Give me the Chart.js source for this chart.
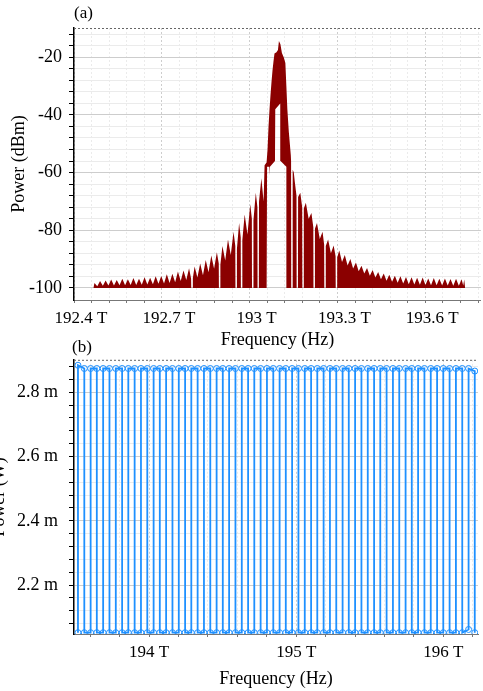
<!DOCTYPE html>
<html>
<head>
<meta charset="utf-8">
<script src="https://cdn.jsdelivr.net/npm/chart.js@4.4.0/dist/chart.umd.min.js"></script>
<style>
  html, body { margin: 0; padding: 0; background: #fff; overflow: hidden; }
  body { width: 483px; height: 691px; position: relative; }
  canvas { position: absolute; }
  #specChart { left: 0; top: 0; }
  #combChart { left: -18px; top: 338px; }
</style>
</head>
<body>
<canvas id="specChart" width="483" height="355"></canvas>
<canvas id="combChart" width="501" height="353"></canvas>
<script>
// (a) optical spectrum: [frequency THz, power dBm]
const spectrumTrace = [
  [192.466, -100],
  [192.470, -98.3], [192.4795, -99.4], [192.489, -97.6], [192.4985, -99.3],
  [192.508, -97.4], [192.5175, -99.2], [192.527, -97.1], [192.5365, -99.2],
  [192.546, -97.3], [192.5555, -99.1], [192.565, -96.8], [192.5745, -99.1],
  [192.584, -97.0], [192.5935, -99.0], [192.603, -96.6], [192.6125, -99.0],
  [192.622, -96.8], [192.6315, -98.9], [192.641, -96.3], [192.6505, -98.8],
  [192.660, -96.5], [192.6695, -98.7], [192.679, -96.0], [192.6885, -98.6],
  [192.698, -95.9], [192.7075, -98.5], [192.717, -95.3], [192.7265, -98.3],
  [192.736, -95.1], [192.7455, -98.0], [192.755, -94.3], [192.7645, -97.6],
  [192.774, -94.0], [192.7835, -97.3],
  [192.793, -93.2], [192.800, -96.8], [192.8005, -100], [192.8055, -100], [192.806, -96.6],
  [192.812, -92.6], [192.8215, -96.4], [192.831, -91.5], [192.8405, -95.6],
  [192.850, -90.3], [192.8595, -94.6], [192.869, -88.8], [192.8785, -93.4],
  [192.888, -87.6], [192.8945, -91.5], [192.895, -100], [192.8995, -100], [192.900, -92],
  [192.907, -85.5], [192.9165, -90.5],
  [192.926, -83.2], [192.9355, -88.6],
  [192.945, -80.5], [192.951, -85.5], [192.9515, -100], [192.956, -100], [192.9565, -86.5],
  [192.964, -77.5], [192.9695, -82.5], [192.970, -100], [192.9745, -100], [192.975, -83.5],
  [192.983, -74.5], [192.9925, -81.5],
  [193.002, -71.0], [193.0075, -76], [193.008, -100], [193.0125, -100], [193.013, -76.5],
  [193.021, -67.0], [193.0265, -72], [193.027, -100], [193.0315, -100], [193.032, -70],
  [193.040, -62.0], [193.0476, -70], [193.0510, -57.5], [193.0578, -56.5],
  [193.0611, -52], [193.0645, -44], [193.0679, -38], [193.0713, -33],
  [193.0747, -28.5], [193.0781, -24.5], [193.0814, -21.5], [193.0848, -18.7],
  [193.0916, -18.3], [193.0966, -17.5], [193.1000, -14.4], [193.1051, -15.5],
  [193.1102, -18.5], [193.1170, -20.2], [193.1220, -22], [193.1254, -30],
  [193.1288, -38], [193.1339, -46], [193.1406, -54],
  [193.1415, -56], [193.142, -100], [193.1465, -100], [193.147, -59], [193.1508, -60],
  [193.154, -63.0], [193.160, -68], [193.1605, -100], [193.165, -100], [193.1655, -68.5],
  [193.173, -67.0], [193.1795, -72], [193.180, -100], [193.1845, -100], [193.185, -72.5],
  [193.192, -70.5], [193.2015, -76],
  [193.211, -74.0], [193.2175, -79], [193.218, -100], [193.2225, -100], [193.223, -79.5],
  [193.230, -77.5], [193.2395, -83],
  [193.249, -80.5], [193.2545, -85], [193.255, -100], [193.2595, -100], [193.260, -85.5],
  [193.268, -83.2], [193.2775, -88],
  [193.287, -85.3], [193.2935, -89], [193.294, -100], [193.2985, -100], [193.299, -89.5],
  [193.306, -87.0], [193.3155, -91], [193.325, -88.6], [193.3345, -92.2],
  [193.344, -90.0], [193.3535, -93.3], [193.363, -91.2], [193.3725, -94.2],
  [193.382, -92.3], [193.3915, -95.0], [193.401, -93.1], [193.4105, -95.8],
  [193.420, -93.8], [193.4295, -96.4], [193.439, -94.5], [193.4485, -97.0],
  [193.458, -95.0], [193.4675, -97.5], [193.477, -95.4], [193.4865, -97.9],
  [193.496, -95.8], [193.5055, -98.2], [193.515, -96.0], [193.5245, -98.5],
  [193.534, -96.2], [193.5435, -98.7], [193.553, -96.3], [193.5625, -98.8],
  [193.572, -96.5], [193.5815, -98.9], [193.591, -96.4], [193.6005, -99.0],
  [193.610, -96.7], [193.6195, -99.1], [193.629, -96.6], [193.6385, -99.1],
  [193.648, -96.8], [193.6575, -99.2], [193.667, -96.7], [193.6765, -99.2],
  [193.686, -96.9], [193.6955, -99.3], [193.705, -96.8], [193.7145, -99.3],
  [193.724, -97.0], [193.7295, -99.2], [193.733, -97.1], [193.736, -100]
];
// lower edge of the trace (the trace never drops below this near the carrier)
const spectrumFloor = [
  [192.466, -100], [193.058, -100], [193.0595, -58], [193.0665, -58],
  [193.0679, -61], [193.0693, -58], [193.0865, -56], [193.0875, -38],
  [193.1045, -36], [193.1055, -56], [193.1254, -58], [193.1265, -100],
  [193.736, -100]
];
const specTicks = [192.4, 192.7, 193.0, 193.3, 193.6];
const specTickLabels = ['192.4 T', '192.7 T', '193 T', '193.3 T', '193.6 T'];
const specPowerTicks = [-100, -80, -60, -40, -20];
const specPowerLabels = ['-100', '-80', '-60', '-40', '-20'];

// (b) comb lines: frequency THz, power mW
const combFreq = [
  193.517, 193.560, 193.603, 193.645, 193.688, 193.731, 193.774, 193.817,
  193.859, 193.902, 193.945, 193.988, 194.031, 194.073, 194.116, 194.159,
  194.202, 194.245, 194.287, 194.330, 194.373, 194.416, 194.459, 194.501,
  194.544, 194.587, 194.630, 194.673, 194.715, 194.758, 194.801, 194.844,
  194.887, 194.929, 194.972, 195.015, 195.058, 195.101, 195.143, 195.186,
  195.229, 195.272, 195.315, 195.357, 195.400, 195.443, 195.486, 195.529,
  195.571, 195.614, 195.657, 195.700, 195.743, 195.785, 195.828, 195.871,
  195.914, 195.957, 195.999, 196.042, 196.085, 196.128, 196.171, 196.213
];
const combPeak = [
  2.884, 2.874, 2.874, 2.874, 2.874, 2.874, 2.874, 2.874,
  2.874, 2.874, 2.874, 2.874, 2.874, 2.874, 2.874, 2.874,
  2.874, 2.874, 2.874, 2.874, 2.874, 2.874, 2.874, 2.874,
  2.874, 2.874, 2.874, 2.874, 2.874, 2.874, 2.874, 2.874,
  2.874, 2.874, 2.874, 2.874, 2.874, 2.874, 2.874, 2.874,
  2.874, 2.874, 2.874, 2.874, 2.874, 2.874, 2.874, 2.874,
  2.874, 2.874, 2.874, 2.874, 2.874, 2.874, 2.874, 2.874,
  2.874, 2.874, 2.874, 2.874, 2.874, 2.874, 2.874, 2.866
];
const combFloor = [
  2.052, 2.052, 2.052, 2.052, 2.052, 2.052, 2.052, 2.052,
  2.052, 2.052, 2.052, 2.052, 2.052, 2.052, 2.052, 2.052,
  2.052, 2.052, 2.052, 2.052, 2.052, 2.052, 2.052, 2.052,
  2.052, 2.052, 2.052, 2.052, 2.052, 2.052, 2.052, 2.052,
  2.052, 2.052, 2.052, 2.052, 2.052, 2.052, 2.052, 2.052,
  2.052, 2.052, 2.052, 2.052, 2.052, 2.052, 2.052, 2.052,
  2.052, 2.052, 2.052, 2.052, 2.052, 2.052, 2.052, 2.052,
  2.052, 2.052, 2.052, 2.052, 2.052, 2.052, 2.062, 2.052
];
const combTicks = [194, 195, 196];
const combTickLabels = ['194 T', '195 T', '196 T'];
const combPowerTicks = [2.2, 2.4, 2.6, 2.8];
const combPowerLabels = ['2.2 m', '2.4 m', '2.6 m', '2.8 m'];

const serif = "'Liberation Serif', 'Times New Roman', serif";
Chart.defaults.font.family = serif;
Chart.defaults.color = '#000';

// ticks every `step`, the listed ones are major (labelled, darker grid)
function gridTicks(start, end, step, majors) {
  const ticks = [];
  for (let i = 0; start + i * step <= end + 1e-9; i++) {
    const value = +(start + i * step).toFixed(6);
    ticks.push({ value, major: majors.some(m => Math.abs(m - value) < 1e-6) });
  }
  return ticks;
}

function labelFor(v, values, labels) {
  const i = values.findIndex(m => Math.abs(m - v) < 1e-6);
  return i < 0 ? '' : labels[i];
}

const gridColor = c => (c.tick && c.tick.major ? '#cdcdcd' : '#ebebeb');

// dotted top edge and the (a)/(b) tag
const framePlugin = {
  id: 'frame',
  afterDraw(chart, args, opts) {
    const { ctx, chartArea: a } = chart;
    ctx.save();
    ctx.strokeStyle = '#666';
    ctx.lineWidth = 1;
    ctx.setLineDash([2, 2]);
    ctx.beginPath();
    ctx.moveTo(a.left, a.top + 0.5);
    ctx.lineTo(a.right, a.top + 0.5);
    ctx.stroke();
    ctx.setLineDash([]);
    ctx.fillStyle = '#000';
    ctx.font = '17px ' + serif;
    ctx.textBaseline = 'middle';
    ctx.fillText(opts.tag, a.left + opts.tagDx, a.top - opts.tagGap);
    ctx.restore();
  }
};

const specChart = new Chart(document.getElementById('specChart').getContext('2d'), {
  type: 'line',
  data: {
    datasets: [
      {
        data: spectrumTrace.map(([x, y]) => ({ x, y })),
        borderWidth: 0,
        borderColor: 'rgba(0,0,0,0)',
        backgroundColor: '#8b0000',
        fill: '+1',
        pointRadius: 0
      },
      {
        data: spectrumFloor.map(([x, y]) => ({ x, y })),
        borderWidth: 0,
        borderColor: 'rgba(0,0,0,0)',
        fill: false,
        pointRadius: 0
      }
    ]
  },
  options: {
    responsive: false,
    animation: false,
    devicePixelRatio: 1,
    events: [],
    layout: { padding: { top: 28, left: 0, right: 0, bottom: 0 } },
    plugins: {
      legend: { display: false },
      tooltip: { enabled: false },
      frame: { tag: '(a)', tagDx: 0, tagGap: 14 }
    },
    scales: {
      x: {
        type: 'linear',
        min: 192.4,
        max: 193.79,
        afterBuildTicks: s => { s.ticks = gridTicks(192.4, 193.79, 0.06, specTicks); },
        afterFit: s => { s.height = 55; },
        ticks: {
          autoSkip: false, maxRotation: 0, padding: 5, labelOffset: 7,
          font: { size: 17 },
          callback: v => labelFor(v, specTicks, specTickLabels)
        },
        grid: { color: gridColor, tickLength: 3, tickColor: '#777' },
        border: { color: '#777', width: 1, dash: [2, 2] },
        title: { display: true, text: 'Frequency (Hz)', font: { size: 18 }, padding: { top: 0, bottom: 3.5 } }
      },
      y: {
        type: 'linear',
        min: -104.2,
        max: -9.85,
        afterBuildTicks: s => { s.ticks = gridTicks(-100, -12, 4, specPowerTicks); },
        afterFit: s => { s.width = 74; },
        ticks: {
          autoSkip: false, padding: 7,
          font: { size: 18 },
          callback: v => labelFor(v, specPowerTicks, specPowerLabels)
        },
        grid: { color: gridColor, tickLength: 5, tickColor: '#000' },
        border: { color: '#000', width: 1.5 },
        title: { display: true, text: 'Power (dBm)', font: { size: 18 }, padding: { top: 8, bottom: 0 } }
      }
    }
  },
  plugins: [framePlugin]
});

// each comb line is a vertical stroke; neighbours join alternately on top and bottom
const combPoints = [];
combFreq.forEach((f, i) => {
  const pair = [{ x: f, y: combFloor[i] }, { x: f, y: combPeak[i] }];
  if (i % 2) pair.reverse();
  combPoints.push(...pair);
});

const combChart = new Chart(document.getElementById('combChart').getContext('2d'), {
  type: 'line',
  data: {
    datasets: [{
      data: combPoints,
      borderColor: '#1e90ff',
      borderWidth: 1.8,
      pointRadius: 3,
      pointBorderWidth: 1,
      pointBorderColor: '#1e90ff',
      pointBackgroundColor: 'rgba(255,255,255,0)',
      fill: false
    }]
  },
  options: {
    responsive: false,
    animation: false,
    devicePixelRatio: 1,
    events: [],
    layout: { padding: { top: 21, left: 0, right: 0, bottom: 0 } },
    plugins: {
      legend: { display: false },
      tooltip: { enabled: false },
      frame: { tag: '(b)', tagDx: -2, tagGap: 12 }
    },
    scales: {
      x: {
        type: 'linear',
        min: 193.49,
        max: 196.235,
        afterBuildTicks: s => { s.ticks = gridTicks(193.6, 196.235, 0.2, combTicks); },
        afterFit: s => { s.height = 57; },
        ticks: {
          autoSkip: false, maxRotation: 0, padding: 5,
          font: { size: 17 },
          callback: v => labelFor(v, combTicks, combTickLabels)
        },
        grid: { color: gridColor, tickLength: 3, tickColor: '#777' },
        border: { color: '#777', width: 1, dash: [2, 2] },
        title: { display: true, text: 'Frequency (Hz)', font: { size: 18 }, padding: { top: 0, bottom: 1 } }
      },
      y: {
        type: 'linear',
        min: 2.048,
        max: 2.901,
        afterBuildTicks: s => { s.ticks = gridTicks(2.08, 2.88, 0.04, combPowerTicks); },
        afterFit: s => { s.width = 92; },
        ticks: {
          autoSkip: false, padding: 11,
          font: { size: 18 },
          callback: v => labelFor(v, combPowerTicks, combPowerLabels)
        },
        grid: { color: gridColor, tickLength: 5, tickColor: '#000' },
        border: { color: '#000', width: 1.5 },
        title: { display: true, text: 'Power (W)', font: { size: 18 }, padding: { top: 6, bottom: 0 } }
      }
    }
  },
  plugins: [framePlugin]
});
</script>
</body>
</html>
